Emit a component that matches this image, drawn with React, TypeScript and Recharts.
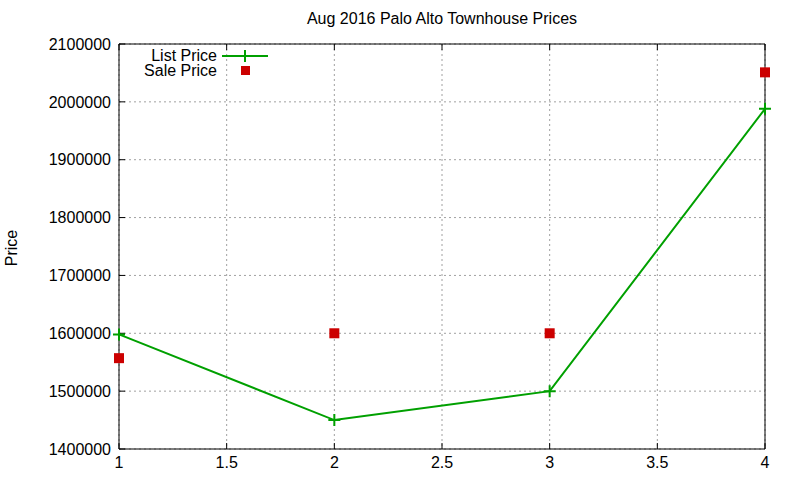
import { ComposedChart, Line, XAxis, YAxis, CartesianGrid } from 'recharts';

const days = [1, 2, 3, 4];
const listPrice = [1598000, 1450000, 1500000, 1988000];
const salePrice = [1557000, 1600000, 1600000, 2051000];
const xTicks = [1, 1.5, 2, 2.5, 3, 3.5, 4];
const yTicks = [1400000, 1500000, 1600000, 1700000, 1800000, 1900000, 2000000, 2100000];

const data = days.map((d, i) => ({ day: d, list: listPrice[i], sale: salePrice[i] }));

const font = 'Liberation Sans, Arial, sans-serif';
const green = '#00a000';
const red = '#cc0000';

const PlusDot = (props: any) => {
  const { cx, cy, index } = props;
  return (
    <path
      key={`p${index}`}
      d={`M${cx - 6},${cy}H${cx + 6}M${cx},${cy - 6}V${cy + 6}`}
      stroke={green}
      strokeWidth={2}
    />
  );
};

const SquareDot = (props: any) => {
  const { cx, cy, index } = props;
  return <rect key={`s${index}`} x={cx - 5} y={cy - 5} width={10} height={10} fill={red} />;
};

// legend box drawn outside recharts so it doesn't eat plot space
const LegendBox = () => (
  <div
    style={{
      position: 'absolute',
      left: 117,
      top: 48,
      fontFamily: font,
      fontSize: 16,
      color: '#000',
      lineHeight: '15px',
    }}
  >
    <div style={{ display: 'flex', alignItems: 'center' }}>
      <span style={{ width: 100, textAlign: 'right' }}>List Price</span>
      <svg width={56} height={15}>
        <line x1={5} x2={51} y1={8} y2={8} stroke={green} strokeWidth={2} />
        <path d="M28,2V14" stroke={green} strokeWidth={2} />
      </svg>
    </div>
    <div style={{ display: 'flex', alignItems: 'center' }}>
      <span style={{ width: 100, textAlign: 'right' }}>Sale Price</span>
      <svg width={56} height={15}>
        <rect x={24} y={3} width={9} height={9} fill={red} />
      </svg>
    </div>
  </div>
);

const tickStyle = { fontFamily: font, fontSize: 16, fill: '#000' };

export default function App() {
  return (
    <div style={{ position: 'absolute', left: 0, top: 0, width: 800, height: 480, background: '#fff' }}>
      <ComposedChart
        width={800}
        height={480}
        data={data}
        margin={{ top: 14, right: 0, bottom: 0, left: 0 }}
        style={{ position: 'absolute', left: 0, top: 0 }}
      >
        <CartesianGrid stroke="#a0a0a0" strokeDasharray="2 3" />
        <XAxis
          dataKey="day"
          type="number"
          domain={[1, 4]}
          ticks={xTicks}
          height={31}
          stroke="#000"
          tickSize={-6}
          tickMargin={14}
          tick={tickStyle}
          interval={0}
        />
        <XAxis
          xAxisId="top"
          orientation="top"
          dataKey="day"
          type="number"
          domain={[1, 4]}
          ticks={xTicks}
          height={30}
          stroke="#000"
          tickSize={-6}
          tickFormatter={() => ''}
        />
        <YAxis
          type="number"
          domain={[1400000, 2100000]}
          ticks={yTicks}
          width={119}
          stroke="#000"
          tickSize={-6}
          tickMargin={14}
          tick={tickStyle}
          interval={0}
        />
        <YAxis
          yAxisId="right"
          orientation="right"
          type="number"
          domain={[1400000, 2100000]}
          ticks={yTicks}
          width={35}
          stroke="#000"
          tickSize={-6}
          tickFormatter={() => ''}
        />
        <Line
          name="List Price"
          dataKey="list"
          type="linear"
          stroke={green}
          strokeWidth={2}
          dot={PlusDot}
          activeDot={false}
          isAnimationActive={false}
        />
        <Line
          name="Sale Price"
          dataKey="sale"
          type="linear"
          stroke="none"
          dot={SquareDot}
          activeDot={false}
          isAnimationActive={false}
        />
      </ComposedChart>
      <div
        style={{
          position: 'absolute',
          left: 119,
          width: 646,
          top: 10,
          textAlign: 'center',
          fontFamily: font,
          fontSize: 16,
        }}
      >
        Aug 2016 Palo Alto Townhouse Prices
      </div>
      <div
        style={{
          position: 'absolute',
          left: 12,
          top: 248,
          transform: 'translate(-50%, -50%) rotate(-90deg)',
          fontFamily: font,
          fontSize: 16,
        }}
      >
        Price
      </div>
      <LegendBox />
    </div>
  );
}
